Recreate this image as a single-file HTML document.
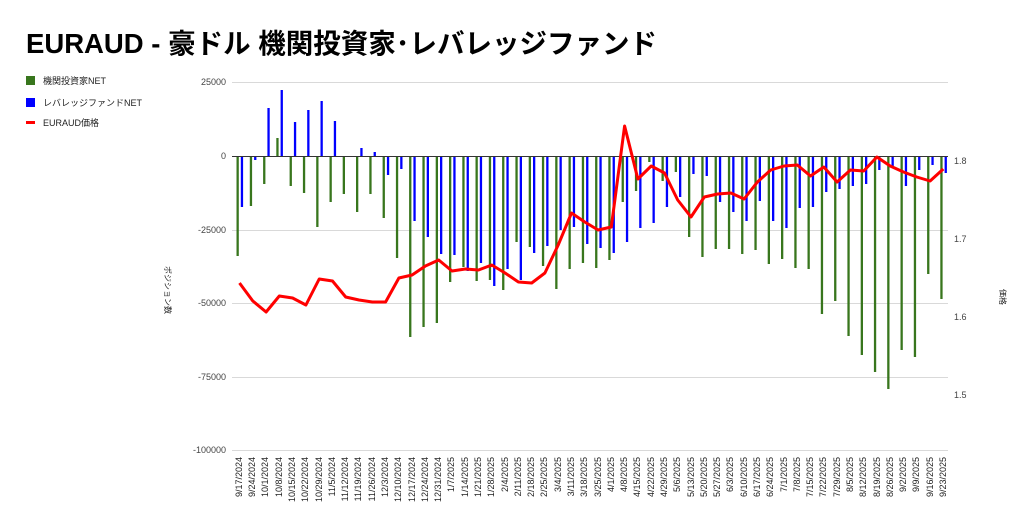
<!DOCTYPE html>
<html><head><meta charset="utf-8"><style>
body{margin:0;background:#fff;}
svg{display:block;font-family:"Liberation Sans","Noto Sans CJK JP",sans-serif;}
</style></head><body>
<svg id="c" width="1024" height="532" viewBox="0 0 1024 532" xmlns="http://www.w3.org/2000/svg">
<rect width="1024" height="532" fill="#fff"/>
<text x="26" y="53" font-size="27.5" font-weight="bold" fill="#000">EURAUD - 豪ドル 機関投資家･レバレッジファンド</text>
<rect x="26" y="76" width="9" height="9" fill="#38761d"/>
<text x="43" y="84" font-size="9" fill="#222">機関投資家NET</text>
<rect x="26" y="98" width="9" height="9" fill="#0000ff"/>
<text x="43" y="106" font-size="9" fill="#222">レバレッジファンドNET</text>
<rect x="26" y="121" width="9" height="3" fill="#ff0000"/>
<text x="43" y="126" font-size="9" fill="#222">EURAUD価格</text>
<g stroke="#d9d9d9" stroke-width="1">
<line x1="232" x2="948" y1="82.5" y2="82.5"/>
<line x1="232" x2="948" y1="230.5" y2="230.5"/>
<line x1="232" x2="948" y1="303.5" y2="303.5"/>
<line x1="232" x2="948" y1="377.5" y2="377.5"/>
<line x1="232" x2="948" y1="450.5" y2="450.5"/>
</g>
<g font-size="9" fill="#444" text-anchor="end">
<text x="226" y="85">25000</text>
<text x="226" y="159">0</text>
<text x="226" y="233">-25000</text>
<text x="226" y="306">-50000</text>
<text x="226" y="380">-75000</text>
<text x="226" y="453">-100000</text>
</g>
<g font-size="9" fill="#444">
<text x="954" y="164">1.8</text>
<text x="954" y="242">1.7</text>
<text x="954" y="320">1.6</text>
<text x="954" y="398">1.5</text>
</g>
<text transform="translate(165,290) rotate(90)" font-size="8" fill="#222" text-anchor="middle">ポジション数</text>
<text transform="translate(1000,297) rotate(90)" font-size="8" fill="#222" text-anchor="middle">価格</text>
<g id="bars"></g>
<line x1="232" x2="948" y1="156.5" y2="156.5" stroke="#333" stroke-width="1"/>
<polyline id="ln" fill="none" stroke="#ff0000" stroke-width="3" stroke-linejoin="round"/>
<g font-size="9" fill="#222" text-anchor="end">
<text transform="translate(242,457) rotate(-90)">9/17/2024</text>
<text transform="translate(255,457) rotate(-90)">9/24/2024</text>
<text transform="translate(268,457) rotate(-90)">10/1/2024</text>
<text transform="translate(282,457) rotate(-90)">10/8/2024</text>
<text transform="translate(295,457) rotate(-90)">10/15/2024</text>
<text transform="translate(308,457) rotate(-90)">10/22/2024</text>
<text transform="translate(322,457) rotate(-90)">10/29/2024</text>
<text transform="translate(335,457) rotate(-90)">11/5/2024</text>
<text transform="translate(348,457) rotate(-90)">11/12/2024</text>
<text transform="translate(361,457) rotate(-90)">11/19/2024</text>
<text transform="translate(375,457) rotate(-90)">11/26/2024</text>
<text transform="translate(388,457) rotate(-90)">12/3/2024</text>
<text transform="translate(401,457) rotate(-90)">12/10/2024</text>
<text transform="translate(415,457) rotate(-90)">12/17/2024</text>
<text transform="translate(428,457) rotate(-90)">12/24/2024</text>
<text transform="translate(441,457) rotate(-90)">12/31/2024</text>
<text transform="translate(454,457) rotate(-90)">1/7/2025</text>
<text transform="translate(468,457) rotate(-90)">1/14/2025</text>
<text transform="translate(481,457) rotate(-90)">1/21/2025</text>
<text transform="translate(494,457) rotate(-90)">1/28/2025</text>
<text transform="translate(508,457) rotate(-90)">2/4/2025</text>
<text transform="translate(521,457) rotate(-90)">2/11/2025</text>
<text transform="translate(534,457) rotate(-90)">2/18/2025</text>
<text transform="translate(547,457) rotate(-90)">2/25/2025</text>
<text transform="translate(561,457) rotate(-90)">3/4/2025</text>
<text transform="translate(574,457) rotate(-90)">3/11/2025</text>
<text transform="translate(587,457) rotate(-90)">3/18/2025</text>
<text transform="translate(601,457) rotate(-90)">3/25/2025</text>
<text transform="translate(614,457) rotate(-90)">4/1/2025</text>
<text transform="translate(627,457) rotate(-90)">4/8/2025</text>
<text transform="translate(640,457) rotate(-90)">4/15/2025</text>
<text transform="translate(654,457) rotate(-90)">4/22/2025</text>
<text transform="translate(667,457) rotate(-90)">4/29/2025</text>
<text transform="translate(680,457) rotate(-90)">5/6/2025</text>
<text transform="translate(694,457) rotate(-90)">5/13/2025</text>
<text transform="translate(707,457) rotate(-90)">5/20/2025</text>
<text transform="translate(720,457) rotate(-90)">5/27/2025</text>
<text transform="translate(733,457) rotate(-90)">6/3/2025</text>
<text transform="translate(747,457) rotate(-90)">6/10/2025</text>
<text transform="translate(760,457) rotate(-90)">6/17/2025</text>
<text transform="translate(773,457) rotate(-90)">6/24/2025</text>
<text transform="translate(787,457) rotate(-90)">7/1/2025</text>
<text transform="translate(800,457) rotate(-90)">7/8/2025</text>
<text transform="translate(813,457) rotate(-90)">7/15/2025</text>
<text transform="translate(826,457) rotate(-90)">7/22/2025</text>
<text transform="translate(840,457) rotate(-90)">7/29/2025</text>
<text transform="translate(853,457) rotate(-90)">8/5/2025</text>
<text transform="translate(866,457) rotate(-90)">8/12/2025</text>
<text transform="translate(880,457) rotate(-90)">8/19/2025</text>
<text transform="translate(893,457) rotate(-90)">8/26/2025</text>
<text transform="translate(906,457) rotate(-90)">9/2/2025</text>
<text transform="translate(919,457) rotate(-90)">9/9/2025</text>
<text transform="translate(933,457) rotate(-90)">9/16/2025</text>
<text transform="translate(946,457) rotate(-90)">9/23/2025</text>
</g>
</svg>
<script>
var G=[256,206,184,138,186,193,227,202,194,212,194,218,258,337,327,323,282,267,281,280,290,242,247,266,289,269,263,268,260,202,191,162,181,172,237,257,249,249,254,250,264,259,268,269,314,301,336,355,372,389,350,357,274,299];
var B=[207,160,108,90,122,110,101,121,157,148,152,175,169,221,237,254,255,271,263,286,269,280,253,246,230,227,244,248,253,242,228,223,207,197,174,176,202,212,221,201,221,228,208,207,192,189,186,184,170,167,186,170,165,173];
var R=[283,301,312,296,298,305,279,281,297,300,302,302,278,275,266,260,271,269,270,265,273,282,283,273,245,213,222,230,227,126,179,166,173,200,217,197,194,193,199,182,170,166,165,176,167,182,170,171,157,166,172,177,181,169];
var s='',p=[];
function r(x,y,c){var t=Math.min(y,156),h=Math.max(Math.abs(y-156),1);s+='<rect x="'+x.toFixed(1)+'" y="'+t+'" width="2.3" height="'+h+'" fill="'+c+'"/>';}
for(var i=0;i<54;i++){var gx=236.5+13.28*i,bx=gx+4.3;
r(gx,G[i],'#38761d');r(bx,B[i],'#0000ff');p.push((239.5+13.28*i).toFixed(1)+','+R[i]);}
document.getElementById('bars').innerHTML=s;
document.getElementById('ln').setAttribute('points',p.join(' '));
</script>
</body></html>
